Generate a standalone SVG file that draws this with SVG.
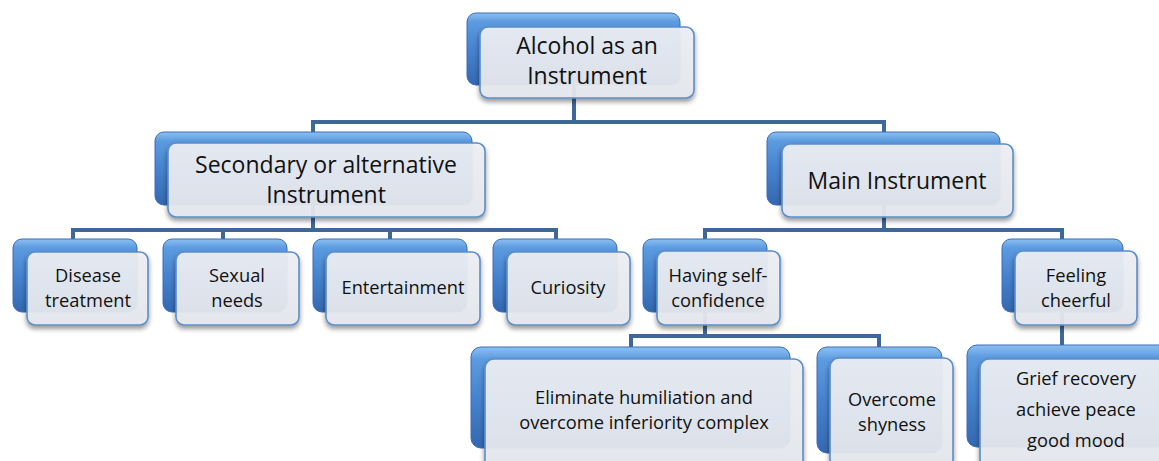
<svg xmlns="http://www.w3.org/2000/svg" width="1159" height="461" viewBox="0 0 1159 461">
<defs>
<linearGradient id="gBack" x1="0" y1="0" x2="0" y2="1">
<stop offset="0" stop-color="#8cc0f2"/>
<stop offset="0.12" stop-color="#5d9be0"/>
<stop offset="0.5" stop-color="#4683cf"/>
<stop offset="1" stop-color="#3468b0"/>
</linearGradient>
<linearGradient id="gFront" x1="0" y1="0" x2="0" y2="1">
<stop offset="0" stop-color="#eef1f6"/>
<stop offset="1" stop-color="#e6e9ef"/>
</linearGradient>
<filter id="shadow" x="-10%" y="-10%" width="120%" height="130%">
<feGaussianBlur in="SourceAlpha" stdDeviation="2.5"/>
<feOffset dx="0" dy="3" result="b"/>
<feComponentTransfer><feFuncA type="linear" slope="0.45"/></feComponentTransfer>
<feMerge><feMergeNode/><feMergeNode in="SourceGraphic"/></feMerge>
</filter>
</defs>
<style>
.back{fill:url(#gBack);stroke:#3a6db3;stroke-width:1}
.front{fill:url(#gFront);fill-opacity:0.92;stroke:#5b8dcb;stroke-width:1.6}
.conn{fill:none;stroke:#3e6898;stroke-width:4;stroke-linejoin:miter}
text{font-family:"Open Sans",Lato,"Liberation Sans",sans-serif;fill:#111;text-anchor:middle}
.t1{font-size:23px}
.t2{font-size:18.3px}
</style>
<g id="connectors">
<path class="conn" d="M574,85 V122 M313,132 V122 H884 V132"/>
<path class="conn" d="M313,205 V230 M73,239 V230 H556 V239 M223,230 V239 M390,230 V239"/>
<path class="conn" d="M884,205 V230 M705,239 V230 H1062 V239"/>
<path class="conn" d="M705,312 V336 M631,347 V336 H879 V347"/>
<path class="conn" d="M1062,312 V345"/>
</g>
<g id="n-root">
<rect class="back" x="467" y="13" width="213" height="72" rx="9"/>
<rect class="front" x="480" y="27" width="214" height="71" rx="8" filter="url(#shadow)"/>
<text class="t1" x="587" y="54">Alcohol as an</text>
<text class="t1" x="587" y="84">Instrument</text>
</g>
<g id="n-secondary">
<rect class="back" x="155" y="132" width="317" height="73" rx="9"/>
<rect class="front" x="168" y="143" width="317" height="74" rx="8" filter="url(#shadow)"/>
<text class="t1" x="326" y="173">Secondary or alternative</text>
<text class="t1" x="326" y="203">Instrument</text>
</g>
<g id="n-main">
<rect class="back" x="767" y="132" width="233" height="73" rx="9"/>
<rect class="front" x="782" y="144" width="231" height="73" rx="8" filter="url(#shadow)"/>
<text class="t1" x="897" y="189">Main Instrument</text>
</g>
<g id="n-disease">
<rect class="back" x="13" y="239" width="124" height="73" rx="9"/>
<rect class="front" x="27" y="252" width="121" height="73" rx="8" filter="url(#shadow)"/>
<text class="t2" x="88" y="282">Disease</text>
<text class="t2" x="88" y="307">treatment</text>
</g>
<g id="n-sexual">
<rect class="back" x="163" y="239" width="124" height="73" rx="9"/>
<rect class="front" x="176" y="252" width="123" height="73" rx="8" filter="url(#shadow)"/>
<text class="t2" x="237" y="282">Sexual</text>
<text class="t2" x="237" y="307">needs</text>
</g>
<g id="n-entertainment">
<rect class="back" x="313" y="239" width="154" height="73" rx="9"/>
<rect class="front" x="326" y="252" width="154" height="73" rx="8" filter="url(#shadow)"/>
<text class="t2" x="403" y="294">Entertainment</text>
</g>
<g id="n-curiosity">
<rect class="back" x="493" y="239" width="124" height="73" rx="9"/>
<rect class="front" x="507" y="252" width="123" height="73" rx="8" filter="url(#shadow)"/>
<text class="t2" x="568" y="294">Curiosity</text>
</g>
<g id="n-selfconf">
<rect class="back" x="643" y="239" width="124" height="73" rx="9"/>
<rect class="front" x="657" y="251" width="123" height="74" rx="8" filter="url(#shadow)"/>
<text class="t2" x="718" y="282">Having self-</text>
<text class="t2" x="718" y="307">confidence</text>
</g>
<g id="n-cheerful">
<rect class="back" x="1002" y="239" width="121" height="73" rx="9"/>
<rect class="front" x="1015" y="251" width="122" height="74" rx="8" filter="url(#shadow)"/>
<text class="t2" x="1076" y="282">Feeling</text>
<text class="t2" x="1076" y="307">cheerful</text>
</g>
<g id="n-eliminate">
<rect class="back" x="471" y="347" width="319" height="101" rx="10"/>
<rect class="front" x="485" y="359" width="318" height="110" rx="9" filter="url(#shadow)"/>
<text class="t2" x="644" y="404">Eliminate humiliation and</text>
<text class="t2" x="644" y="429">overcome inferiority complex</text>
</g>
<g id="n-shyness">
<rect class="back" x="817" y="347" width="125" height="106" rx="10"/>
<rect class="front" x="830" y="358" width="123" height="110" rx="9" filter="url(#shadow)"/>
<text class="t2" x="892" y="406">Overcome</text>
<text class="t2" x="892" y="431">shyness</text>
</g>
<g id="n-grief">
<rect class="back" x="967" y="345" width="205" height="102" rx="10"/>
<rect class="front" x="980" y="359" width="195" height="110" rx="9" filter="url(#shadow)"/>
<text class="t2" x="1076" y="385">Grief recovery</text>
<text class="t2" x="1076" y="416">achieve peace</text>
<text class="t2" x="1076" y="447">good mood</text>
</g>
</svg>
